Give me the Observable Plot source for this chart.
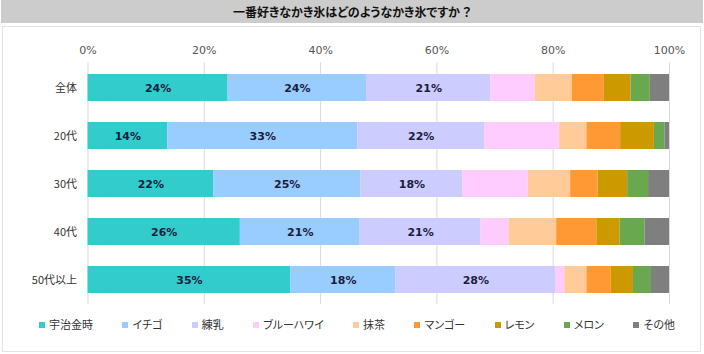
<!DOCTYPE html>
<html><head><meta charset="utf-8">
<script src="https://cdn.jsdelivr.net/npm/d3@7"></script>
<script src="https://cdn.jsdelivr.net/npm/@observablehq/plot@0.6"></script>
<style>
body{margin:0;background:#fff;width:704px;height:354px;position:relative;overflow:hidden;font-family:"Noto Sans CJK JP",sans-serif;}
#title{position:absolute;left:1px;top:0;width:702px;height:23px;background:#cccccc;font-weight:bold;font-size:12px;line-height:23px;text-align:center;color:#111;font-feature-settings:"palt";}
#panel{position:absolute;left:2px;top:26px;width:699px;height:326px;border:1px solid #e3e3e3;box-sizing:border-box;}
#chart{position:absolute;left:0;top:27px;}
#legend{position:absolute;left:39px;top:317px;width:636px;display:flex;justify-content:space-between;font-size:11px;line-height:15px;color:#333;font-feature-settings:"palt";white-space:nowrap;}
.item{display:flex;align-items:center;flex-shrink:0;}
.sw{width:6px;height:6px;margin-right:4px;}
</style>
</head><body>
<div id="title">一番好きなかき氷はどのようなかき氷ですか ？</div>
<div id="panel"></div>
<div id="chart"></div>
<div id="legend"></div>
<script>
const categories = ["全体","20代","30代","40代","50代以上"];
const series = ["宇治金時","イチゴ","練乳","ブルーハワイ","抹茶","マンゴー","レモン","メロン","その他"];
const colors = ["#33cccc","#99ccff","#ccccff","#ffccff","#ffcc99","#ff9933","#cc9900","#6aa84f","#7f7f7f"];
const xTicks = [0,20,40,60,80,100];
const labeledSeries = ["宇治金時","イチゴ","練乳"];

const overall = [24.1,23.8,21.4,7.6,6.4,5.5,4.6,3.3,3.3];
const age20 = [13.7,32.7,21.8,12.9,4.7,5.8,5.8,1.8,0.8];
const age30 = [21.6,25.3,17.6,11.2,7.3,4.7,5.1,3.6,3.6];
const age40 = [26.2,20.6,20.8,4.8,8.2,6.9,4.0,4.3,4.2];
const age50 = [34.9,18.0,27.6,1.5,3.8,4.2,3.8,3.1,3.1];

const byCat = [overall, age20, age30, age40, age50];
const rows = [];
categories.forEach((c, i) => series.forEach((s, j) => rows.push({cat: c, ser: s, value: byCat[i][j]})));

const plot = Plot.plot({
  width: 704, height: 277,
  marginLeft: 87.5, marginRight: 35, marginTop: 35.5, marginBottom: 0,
  x: {domain: [0, 100]},
  y: {domain: categories, paddingInner: 0.44, paddingOuter: 0.22},
  color: {domain: series, range: colors},
  style: {fontFamily: "DejaVu Sans", fontSize: "11px", background: "transparent"},
  marks: [
    Plot.gridX(xTicks, {stroke: "#d9d9d9", strokeOpacity: 1}),
    Plot.axisX(xTicks, {anchor: "top", tickSize: 0, tickPadding: 9, tickFormat: d => d + "%", label: null, fill: "#555", fontSize: 11}),
    Plot.axisY({tickSize: 0, tickPadding: 11, label: null, fill: "#333", fontFamily: "Noto Sans CJK JP", fontSize: 11}),
    Plot.barX(rows, Plot.stackX({x: "value", y: "cat", z: "ser", fill: "ser", order: null})),
    Plot.text(rows.filter(d => labeledSeries.includes(d.ser)),
      Plot.stackX({x: "value", y: "cat", z: "ser", order: null, text: d => Math.round(d.value) + "%",
        fill: "#1c1c3c", fontWeight: "bold", fontSize: 11, fontFamily: "DejaVu Sans"}))
  ]
});
document.getElementById("chart").appendChild(plot);

const lg = document.getElementById("legend");
series.forEach((s, i) => {
  const it = document.createElement("div"); it.className = "item";
  const sw = document.createElement("span"); sw.className = "sw"; sw.style.background = colors[i];
  const t = document.createElement("span"); t.textContent = s;
  it.appendChild(sw); it.appendChild(t); lg.appendChild(it);
});
</script>
</body></html>
